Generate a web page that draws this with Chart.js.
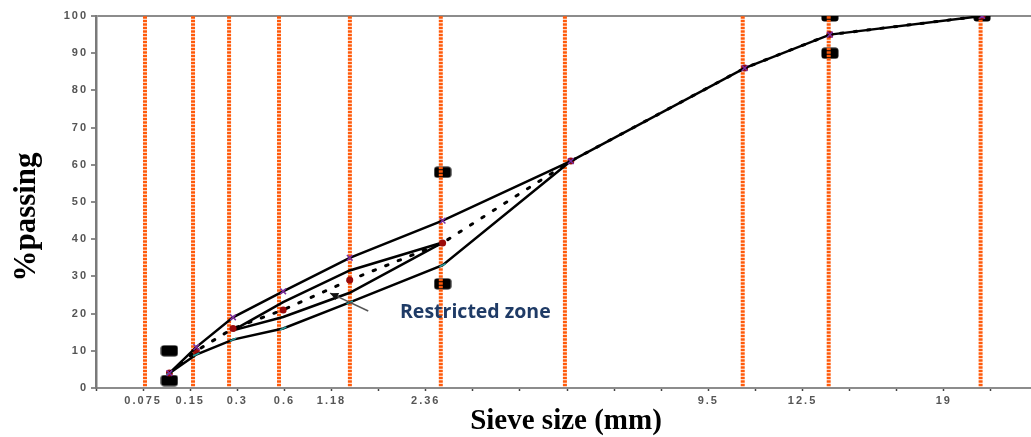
<!DOCTYPE html>
<html>
<head>
<meta charset="utf-8">
<script src="https://cdn.jsdelivr.net/npm/chart.js@4.4.0/dist/chart.umd.min.js"></script>
<style>
html,body{margin:0;padding:0;background:#fff;overflow:hidden;}
#wrap{width:1031px;height:437px;overflow:hidden;}
</style>
</head>
<body>
<div id="wrap"><canvas id="c" width="1040" height="437"></canvas></div>
<script>
// ---- data (x axis is the 0.45-power sieve axis) ----
const sieves     = [0.075, 0.15, 0.3, 0.6, 1.18, 2.36, 4.75, 9.5, 12.5, 19];
const upperGrad  = [4, 11, 19, 26, 35, 45, 61, 86, 95, 100];   // purple crosses
const midGrad    = [4, 10, 16, 21, 29, 39, 61, 86, 95, 100];   // dotted, red dots
const lowerGrad  = [4, 9, 13, 16, 23, 33, 61];                 // teal marks
const rzSieves   = [0.3, 0.6, 1.18, 2.36];
const rzUpper    = [15.5, 23.1, 31.6, 39.1];
const rzLower    = [15.5, 19.1, 25.6, 39.1];
const ctrlSieves = [0.075, 0.075, 2.36, 2.36, 12.5, 12.5, 19];
const ctrlValues = [2, 10, 28, 58, 90, 100, 100];
// orange sieve lines, positions on the power axis
const guidePos   = [0.208, 0.412, 0.565, 0.777, 1.078, 1.464, 1.991, 2.746, 3.111, 3.756];
const guideRange = [0.5, 100];
// x tick labels: tick index (every 0.2 axis units) -> text
const xTickIdx   = [1, 2, 3, 4, 5, 7, 13, 15, 18];
const xTickText  = ['0.075', '0.15', '0.3', '0.6', '1.18', '2.36', '9.5', '12.5', '19'];
const yTicks     = [0, 10, 20, 30, 40, 50, 60, 70, 80, 90, 100];
// annotation arrow (axis units)
const arrowFrom  = [1.156, 20.7];
const arrowTo    = [0.994, 25.5];

const P = d => Math.pow(d, 0.45);
const pts = (xs, ys) => ys.map((y, i) => ({x: P(xs[i]), y}));

// rounded black rectangle marker
const sq = document.createElement('canvas');
sq.width = 18; sq.height = 12;
(function(){
  const g = sq.getContext('2d');
  g.fillStyle = '#000';
  g.beginPath();
  if (g.roundRect) g.roundRect(0.5, 0.5, 17, 11, 3); else g.rect(0.5,0.5,17,11);
  g.fill();
})();

const guideSets = guidePos.map(g => ({
  data: [{x: g, y: guideRange[0]}, {x: g, y: guideRange[1]}],
  borderColor: '#ff5a0a',
  borderWidth: 4,
  borderDash: [2.5, 1],
  pointRadius: 0,
  order: 5
}));

const lineBase = {borderColor: '#000', borderWidth: 2.5, tension: 0, fill: false, order: 2};

const datasets = [
  Object.assign({}, lineBase, {
    data: pts(sieves, upperGrad),
    pointStyle: 'crossRot', pointRadius: 4, pointBorderColor: '#7b2d9e', pointBorderWidth: 1.5,
    order: 1
  }),
  Object.assign({}, lineBase, {
    data: pts(sieves, lowerGrad),
    pointStyle: 'line', pointRadius: 3.5, pointRotation: -25, pointBorderColor: '#2a9d9d', pointBorderWidth: 1.5,
    order: 1
  }),
  Object.assign({}, lineBase, {
    data: pts(sieves, midGrad),
    borderDash: [2.5, 11], borderWidth: 3, borderCapStyle: 'round',
    pointStyle: 'circle', pointRadius: 3.5, pointBackgroundColor: '#9b0a0a', pointBorderColor: '#9b0a0a', pointBorderWidth: 0,
    order: 1
  }),
  Object.assign({}, lineBase, {data: pts(rzSieves, rzUpper), pointRadius: 0}),
  Object.assign({}, lineBase, {data: pts(rzSieves, rzLower), pointRadius: 0}),
  ...guideSets,
  {
    data: pts(ctrlSieves, ctrlValues),
    showLine: false, pointStyle: sq, pointRadius: 8,
    order: 9
  }
];

const textPlugin = {
  id: 'texts',
  beforeDraw(chart) { chart.ctx.letterSpacing = '2px'; },
  afterDraw(chart) {
    const ctx = chart.ctx, xs = chart.scales.x, ys = chart.scales.y;
    ctx.save();
    ctx.letterSpacing = '0px';
    // arrow
    const x1 = xs.getPixelForValue(arrowFrom[0]), y1 = ys.getPixelForValue(arrowFrom[1]);
    const x2 = xs.getPixelForValue(arrowTo[0]),   y2 = ys.getPixelForValue(arrowTo[1]);
    ctx.strokeStyle = '#555'; ctx.lineWidth = 1.5;
    ctx.beginPath(); ctx.moveTo(x1, y1); ctx.lineTo(x2, y2); ctx.stroke();
    const a = Math.atan2(y2 - y1, x2 - x1);
    ctx.fillStyle = '#111';
    ctx.beginPath();
    ctx.moveTo(x2, y2);
    ctx.lineTo(x2 - 9*Math.cos(a - 0.45), y2 - 9*Math.sin(a - 0.45));
    ctx.lineTo(x2 - 9*Math.cos(a + 0.45), y2 - 9*Math.sin(a + 0.45));
    ctx.closePath(); ctx.fill();
    // restricted zone label
    ctx.fillStyle = '#1f3b66';
    ctx.font = 'bold 19.5px "Open Sans"';
    ctx.textAlign = 'left'; ctx.textBaseline = 'middle';
    ctx.fillText('Restricted zone', 400, 312);
    // axis titles
    ctx.fillStyle = '#000';
    ctx.font = 'bold 29px "Liberation Serif"';
    ctx.textAlign = 'center'; ctx.textBaseline = 'middle';
    ctx.fillText('Sieve size (mm)', 566, 422);
    ctx.translate(27, 217);
    ctx.rotate(-Math.PI / 2);
    ctx.font = 'bold 31px "Liberation Serif"';
    ctx.fillText('%passing', 0, 0);
    ctx.restore();
  }
};

new Chart(document.getElementById('c'), {
  type: 'line',
  data: {datasets},
  plugins: [textPlugin],
  options: {
    responsive: false,
    devicePixelRatio: 1,
    animation: false,
    events: [],
    layout: {padding: {left: 0, right: 0, top: 16, bottom: 0}},
    plugins: {legend: {display: false}, tooltip: {enabled: false}},
    scales: {
      x: {
        type: 'linear', min: 0, max: 3.97,
        afterFit(s) { s.height = 49; s.paddingLeft = 0; s.paddingRight = 0; },
        afterBuildTicks(s) { s.ticks = Array.from({length: 20}, (_, i) => ({value: i * 0.2})); },
        border: {color: '#8c8c8c', width: 2},
        grid: {drawOnChartArea: false, tickLength: 3, tickColor: '#444', tickWidth: 1.5},
        ticks: {
          autoSkip: false, maxRotation: 0, padding: 3,
          color: '#555', font: {family: 'Liberation Sans', size: 11, weight: 'bold'},
          callback(v) { const k = xTickIdx.indexOf(Math.round(v / 0.2)); return k >= 0 ? xTickText[k] : ''; }
        }
      },
      y: {
        type: 'linear', min: 0, max: 100,
        afterFit(s) { s.width = 96; s.paddingTop = 0; s.paddingBottom = 0; },
        afterBuildTicks(s) { s.ticks = yTicks.map(v => ({value: v})); },
        border: {color: '#7a7a7a', width: 2.5},
        grid: {
          color: c => (c.tick && c.tick.value === 100) ? '#8c8c8c' : 'rgba(0,0,0,0)',
          lineWidth: 2, tickLength: 5, tickColor: '#666', tickWidth: 1.5
        },
        ticks: {
          padding: 3, color: '#555',
          font: {family: 'Liberation Sans', size: 11, weight: 'bold'}
        }
      }
    }
  }
});
</script>
</body>
</html>
